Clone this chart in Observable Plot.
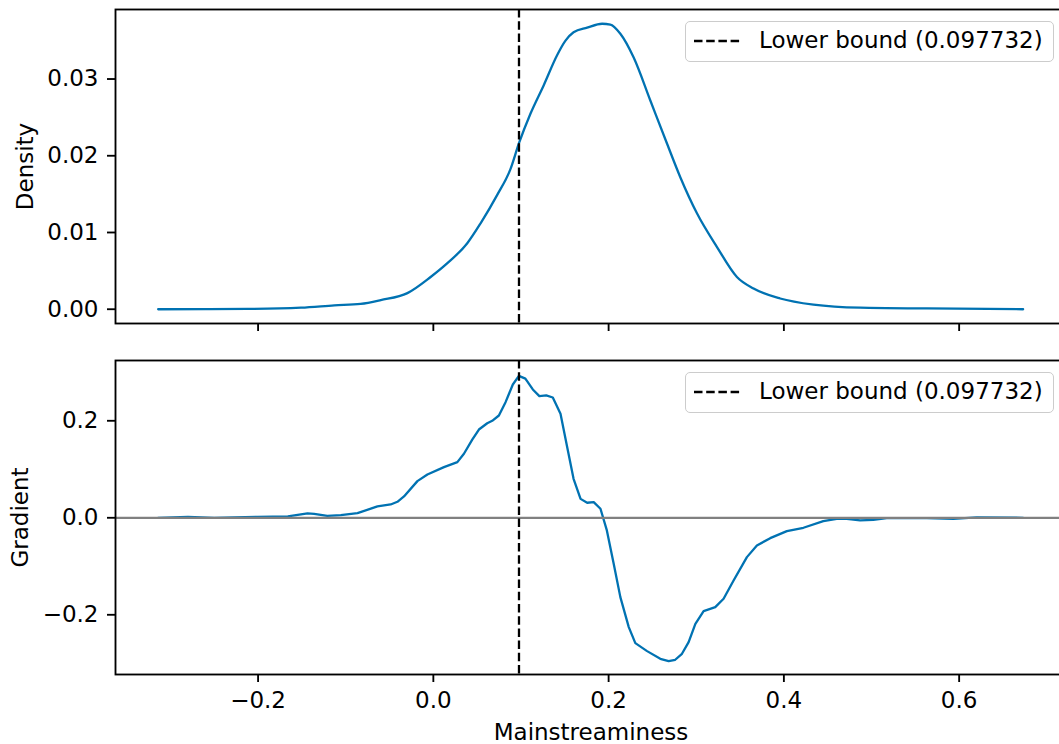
<!DOCTYPE html>
<html>
<head>
<meta charset="utf-8">
<script src="https://cdn.jsdelivr.net/npm/d3@7"></script>
<script src="https://cdn.jsdelivr.net/npm/@observablehq/plot@0.6"></script>
<style>
  html, body { margin: 0; padding: 0; background: white; overflow: hidden; }
  #chart { position: relative; width: 1059px; height: 744px; overflow: hidden; font-family: "DejaVu Sans", sans-serif; }
  .legend { position: absolute; left: 685px; width: 369px; height: 41px; box-sizing: border-box;
            border: 1.5px solid #cccccc; border-radius: 5px; background: rgba(255,255,255,0.8); }
  .legend svg { position: absolute; left: 7px; top: 16px; }
  .legend span { position: absolute; left: 73px; top: 7px; font-size: 23px; line-height: 23px; color: black; white-space: nowrap; }
</style>
</head>
<body>
<div id="chart"></div>
<script>
// ---- data ----
const lowerBound = 0.097732;
const legendLabel = "Lower bound (0.097732)";
const xLabel = "Mainstreaminess";
const densityLabel = "Density";
const gradientLabel = "Gradient";

const xTicks = [-0.2, 0.0, 0.2, 0.4, 0.6];
const densityTicks = [0.00, 0.01, 0.02, 0.03];
const gradientTicks = [-0.2, 0.0, 0.2];

const densityX = [-0.314, -0.26, -0.212, -0.151, -0.113, -0.083, -0.06, -0.0296, -0.0031, 0.016,
  0.0387, 0.0539, 0.0729, 0.0881, 0.0976, 0.1109, 0.126, 0.1412, 0.1508, 0.160,
  0.1755, 0.1926, 0.202, 0.2134, 0.2286, 0.2476, 0.2666, 0.2818, 0.3008, 0.3237,
  0.3464, 0.3654, 0.3958, 0.4338, 0.487, 0.563, 0.673];
const densityY = [0, 0.00002, 0.00004, 0.0002, 0.0005, 0.0007, 0.0012, 0.0021, 0.0042, 0.0060,
  0.0086, 0.0112, 0.0149, 0.0183, 0.0216, 0.0255, 0.0292, 0.0331, 0.0350, 0.0361,
  0.0367, 0.0372, 0.0371, 0.0359, 0.0328, 0.0272, 0.0216, 0.0172, 0.0125, 0.0081,
  0.0042, 0.0027, 0.0014, 0.0006, 0.0002, 0.0001, 0];

const gradientX = [-0.314, -0.280, -0.250, -0.227, -0.2006, -0.166, -0.1436, -0.136, -0.121, -0.1056,
  -0.0866, -0.0638, -0.0487, -0.041, -0.0335, -0.0182, -0.0068, 0.0121, 0.0274, 0.0349,
  0.0444, 0.052, 0.0615, 0.0672, 0.0748, 0.0824, 0.0907, 0.0976, 0.105, 0.1135,
  0.121, 0.1288, 0.1363, 0.1451, 0.1527, 0.160, 0.168, 0.1755, 0.183, 0.1907,
  0.198, 0.2058, 0.2134, 0.223, 0.2305, 0.2439, 0.259, 0.2685, 0.276, 0.2837,
  0.2913, 0.299, 0.3084, 0.3217, 0.3312, 0.3426, 0.3578, 0.3692, 0.3844, 0.4034,
  0.4223, 0.445, 0.4603, 0.4717, 0.487, 0.502, 0.5174, 0.563, 0.5933, 0.62, 0.673];
const gradientY = [0, 0.002, 0, 0.0007, 0.002, 0.0027, 0.0089, 0.008, 0.004, 0.0055,
  0.0096, 0.0234, 0.0275, 0.033, 0.044, 0.0756, 0.0893, 0.1045, 0.1148, 0.132,
  0.161, 0.182, 0.195, 0.200, 0.2109, 0.2384, 0.2748, 0.2927, 0.287, 0.2646,
  0.2508, 0.2522, 0.248, 0.2144, 0.146, 0.0804, 0.039, 0.031, 0.0323, 0.0186,
  -0.0261, -0.0948, -0.1636, -0.2254, -0.2584, -0.2749, -0.2907, -0.2955, -0.2927, -0.2804,
  -0.2564, -0.2186, -0.1924, -0.1842, -0.167, -0.1292, -0.0811, -0.0571, -0.042, -0.0275,
  -0.0206, -0.0069, -0.0021, -0.0021, -0.0055, -0.0041, -0.0007, -0.0007, -0.0021, 0.0007, 0];

// ---- build tables ----
const density = densityX.map((x, i) => ({x, y: densityY[i]}));
const gradient = gradientX.map((x, i) => ({x, y: gradientY[i]}));

const blue = "#0072b2";
const fmtNum = (d, k) => d.toFixed(k).replace("-", "\u2212");
const FONT = 23;
const W = 1067;
const xDomain = [-0.3627, 0.7225];
const common = {
  width: W,
  marginLeft: 115,
  marginRight: 1,
  style: {fontFamily: "DejaVu Sans, sans-serif", fontSize: FONT + "px", maxWidth: "none", background: "transparent", overflow: "visible", color: "black"},
};

const topPlot = Plot.plot({
  ...common,
  height: 345,
  marginTop: 9,
  marginBottom: 22,
  x: {domain: xDomain},
  y: {domain: [-0.00186, 0.03906]},
  marks: [
    Plot.line(density, {x: "x", y: "y", stroke: blue, strokeWidth: 2.3, curve: "monotone-x"}),
    Plot.ruleX([lowerBound], {stroke: "black", strokeWidth: 2.3, strokeDasharray: "8.5,3.7"}),
    Plot.frame({stroke: "black", strokeWidth: 1.85}),
    Plot.axisX({ticks: xTicks, tickSize: 8, tickFormat: () => "", label: null, strokeWidth: 1.85}),
    Plot.axisY({ticks: densityTicks, tickSize: 8, tickPadding: 9, tickFormat: d => fmtNum(d, 2), label: null, fontSize: FONT, strokeWidth: 1.85}),
    Plot.text([densityLabel], {frameAnchor: "left", textAnchor: "middle", dx: -90, rotate: -90, fontSize: FONT})
  ]
});

const bottomPlot = Plot.plot({
  ...common,
  height: 399,
  marginTop: 15,
  marginBottom: 70,
  x: {domain: xDomain},
  y: {domain: [-0.3231, 0.3243]},
  marks: [
    Plot.line(gradient, {x: "x", y: "y", stroke: blue, strokeWidth: 2.3}),
    Plot.ruleY([0], {stroke: "#808080", strokeWidth: 2.3}),
    Plot.ruleX([lowerBound], {stroke: "black", strokeWidth: 2.3, strokeDasharray: "8.5,3.7"}),
    Plot.frame({stroke: "black", strokeWidth: 1.85}),
    Plot.axisX({ticks: xTicks, tickSize: 8, tickPadding: 9, tickFormat: d => fmtNum(d, 1), label: null, fontSize: FONT, strokeWidth: 1.85}),
    Plot.axisY({ticks: gradientTicks, tickSize: 8, tickPadding: 9, tickFormat: d => fmtNum(d, 1), label: null, fontSize: FONT, strokeWidth: 1.85}),
    Plot.text([gradientLabel], {frameAnchor: "left", textAnchor: "middle", dx: -95, rotate: -90, fontSize: FONT}),
    Plot.text([xLabel], {frameAnchor: "bottom", textAnchor: "middle", dy: 65, fontSize: FONT})
  ]
});

const chart = document.getElementById("chart");
topPlot.style.display = "block";
bottomPlot.style.display = "block";
chart.appendChild(topPlot);
chart.appendChild(bottomPlot);

function addLegend(topPx) {
  const div = document.createElement("div");
  div.className = "legend";
  div.style.top = topPx + "px";
  div.innerHTML = `<svg width="50" height="6"><line x1="1" y1="3" x2="48" y2="3" stroke="black" stroke-width="2.3" stroke-dasharray="8.5,3.7"/></svg><span></span>`;
  div.querySelector("span").textContent = legendLabel;
  chart.appendChild(div);
}
addLegend(21);
addLegend(372);
</script>
</body>
</html>
